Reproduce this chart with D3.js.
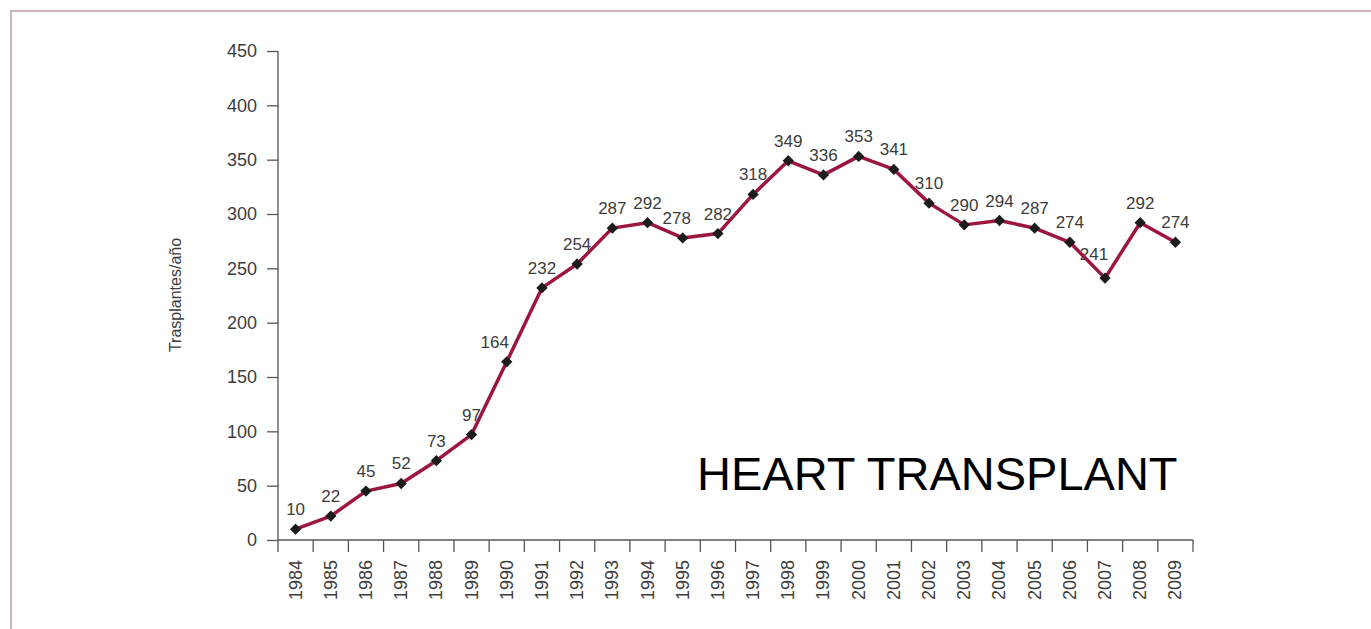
<!DOCTYPE html>
<html>
<head>
<meta charset="utf-8">
<script src="https://cdn.jsdelivr.net/npm/d3@7"></script>
<style>
  body { margin: 0; background: #fff; }
  text { font-family: "Liberation Sans", Arial, sans-serif; }
</style>
</head>
<body>
<div id="chart"></div>
<script>
var years = ["1984","1985","1986","1987","1988","1989","1990","1991","1992","1993","1994","1995","1996",
  "1997","1998","1999","2000","2001","2002","2003","2004","2005","2006","2007","2008","2009"];
var transplants = [10,22,45,52,73,97,164,232,254,287,292,278,282,318,349,336,353,341,310,290,294,287,274,241,292,274];
var yTicks = [0,50,100,150,200,250,300,350,400,450];

function chartDraw(){
  var w = 1371,
    h = 629,
    left = 278,
    right = 1193,
    top = 51,
    bottom = 540;

  var svg = d3.select("#chart").append("svg")
        .attr("width", w)
        .attr("height", h);

  // frame
  svg.append("rect")
    .attr("x", 11)
    .attr("y", 11)
    .attr("width", w + 20)
    .attr("height", h + 20)
    .attr("fill", "none")
    .attr("stroke", "#c9b6c0")
    .attr("stroke-width", 2);

  var x = d3.scaleBand().domain(years).range([left, right]);
  var y = d3.scaleLinear().domain([0, 450]).range([bottom, top]);

  // y axis
  var yAxis = svg.append("g")
    .attr("transform", "translate(" + left + ",0)")
    .call(d3.axisLeft(y).tickValues(yTicks).tickSize(11).tickPadding(10).tickSizeOuter(0));
  yAxis.select(".domain").attr("stroke", "#555").attr("stroke-width", 1.3)
    .attr("d", "M0," + top + "V" + (bottom + 12));
  yAxis.selectAll(".tick line").attr("stroke", "#555").attr("stroke-width", 1.3);
  yAxis.selectAll(".tick text")
    .attr("fill", "#3d3d3d")
    .style("font-size", "18px")
    .style("font-family", "'Liberation Sans', Arial, sans-serif");

  // x axis, ticks between the years
  var xg = svg.append("g");
  xg.append("line")
    .attr("x1", left).attr("x2", right)
    .attr("y1", bottom).attr("y2", bottom)
    .attr("stroke", "#555").attr("stroke-width", 1.3);
  xg.selectAll(".xtick")
    .data(years)
    .enter().append("line")
    .attr("x1", function(d){ return x(d) + x.bandwidth(); })
    .attr("x2", function(d){ return x(d) + x.bandwidth(); })
    .attr("y1", bottom)
    .attr("y2", bottom + 12)
    .attr("stroke", "#555").attr("stroke-width", 1.3);
  xg.selectAll(".xlabel")
    .data(years)
    .enter().append("text")
    .attr("transform", function(d){
      return "translate(" + (x(d) + x.bandwidth() / 2 + 6) + "," + (bottom + 20) + ") rotate(-90)";
    })
    .attr("text-anchor", "end")
    .attr("fill", "#3d3d3d")
    .style("font-size", "18px")
    .text(function(d){ return d; });

  // y title
  svg.append("text")
    .attr("transform", "translate(" + 181 + "," + 295 + ") rotate(-90)")
    .attr("text-anchor", "middle")
    .attr("fill", "#3d3d3d")
    .style("font-size", "16px")
    .text("Trasplantes/año");

  var pts = years.map(function(d, i){ return { year: d, v: transplants[i] }; });
  var cx = function(d){ return x(d.year) + x.bandwidth() / 2; };

  // value labels (a few nudged as in the source)
  var nudge = { "1990": [-12, 0], "1995": [-6, 0], "2007": [-11, -4] };
  svg.selectAll(".vlabel")
    .data(pts)
    .enter().append("text")
    .attr("x", function(d){ return cx(d) + (nudge[d.year] ? nudge[d.year][0] : 0); })
    .attr("y", function(d){ return y(d.v) - 14 + (nudge[d.year] ? nudge[d.year][1] : 0); })
    .attr("text-anchor", "middle")
    .attr("fill", "#3d3d3d")
    .style("font-size", "17px")
    .text(function(d){ return d.v; });

  var line = d3.line()
    .x(cx)
    .y(function(d){ return y(d.v); });

  svg.append("path")
    .datum(pts)
    .attr("d", line)
    .attr("fill", "none")
    .attr("stroke", "#9c163d")
    .attr("stroke-width", 3.5)
    .attr("stroke-linejoin", "round");

  svg.selectAll(".marker")
    .data(pts)
    .enter().append("path")
    .attr("transform", function(d){ return "translate(" + cx(d) + "," + y(d.v) + ") rotate(45)"; })
    .attr("d", d3.symbol().type(d3.symbolSquare).size(64))
    .attr("fill", "#1c1c1c");

  // annotation
  svg.append("text")
    .attr("x", 697)
    .attr("y", 490)
    .attr("fill", "#000")
    .style("font-size", "47px")
    .text("HEART TRANSPLANT");
}

chartDraw();
</script>
</body>
</html>
